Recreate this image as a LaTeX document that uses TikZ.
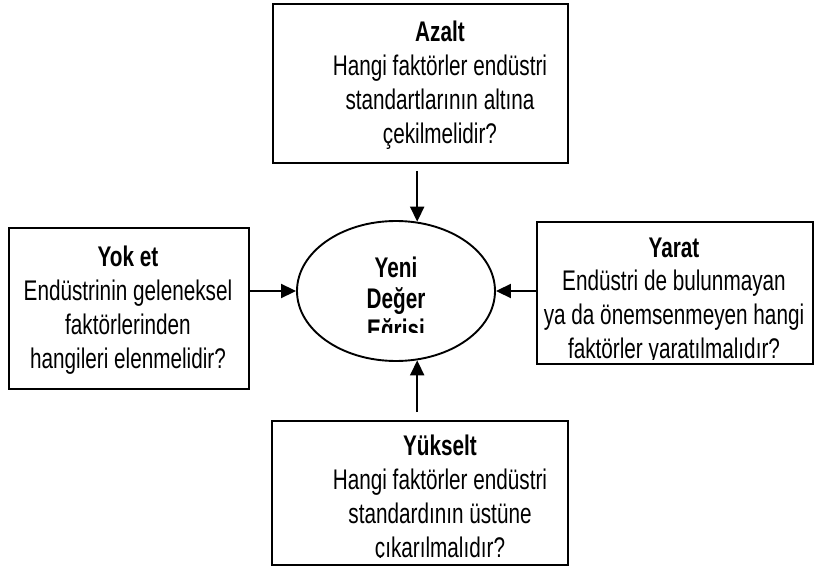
\documentclass[tikz,border=0pt]{standalone}
\usepackage{fontspec}
\setmainfont[FakeStretch=0.73]{Liberation Sans}
\usetikzlibrary{arrows.meta,shapes.geometric}
\begin{document}
\begin{tikzpicture}[x=1bp,y=-1bp,
  box/.style={draw,line width=1.9bp,rectangle,inner sep=0pt},
  txt/.style={align=center,inner sep=0pt,font=\fontsize{28.5}{34}\selectfont},
  etxt/.style={align=center,inner sep=0pt,font=\bfseries\fontsize{28.5}{31}\selectfont},
  arr/.style={line width=1.9bp,-{Triangle[length=15bp,width=14bp]}}
]
\useasboundingbox (0,0) rectangle (815,567);
% boxes
\node[box,minimum width=295bp,minimum height=159bp] (topbox) at (420.5,83.5) {};
\node[box,minimum width=240bp,minimum height=161bp] (leftbox) at (129,308.5) {};
\node[box,minimum width=276bp,minimum height=142bp] (rightbox) at (675,293) {};
\node[box,minimum width=296bp,minimum height=144bp] (botbox) at (420,493) {};
\node[draw,ellipse,line width=1.9bp,minimum width=198bp,minimum height=140bp,inner sep=0pt] (ell) at (396,291) {};
% texts
\node[txt] (toptxt) at (440,85) {\textbf{Azalt}\\Hangi faktörler endüstri\\standartlarının altına\\çekilmelidir?};
\node[txt] (lefttxt) at (128,310) {\textbf{Yok et}\\Endüstrinin geleneksel\\faktörlerinden\\hangileri elenmelidir?};
\begin{scope}
\clip (540,225) rectangle (810,359);
\node[txt] (righttxt) at (674,301) {\textbf{Yarat}\\Endüstri de bulunmayan\\ya da önemsenmeyen hangi\\faktörler yaratılmalıdır?};
\end{scope}
\begin{scope}
\clip (275,424) rectangle (565,557);
\node[txt] (bottxt) at (440,499) {\textbf{Yükselt}\\Hangi faktörler endüstri\\standardının üstüne\\çıkarılmalıdır?};
\end{scope}
\begin{scope}
\clip (290,200) rectangle (500,332);
\node[etxt] (elltxt) at (396,301) {Yeni\\Değer\\Eğrisi};
\end{scope}
% arrows
\draw[arr] (topbox.south -| ell.73) ++(0,7) -- (ell.73);
\draw[arr] (botbox.north -| ell.-73) ++(0,-8) -- (ell.-73);
\draw[arr] (leftbox.east |- ell.west) -- (ell.west);
\draw[arr] (rightbox.west |- ell.east) -- (ell.east);
\end{tikzpicture}
\end{document}
